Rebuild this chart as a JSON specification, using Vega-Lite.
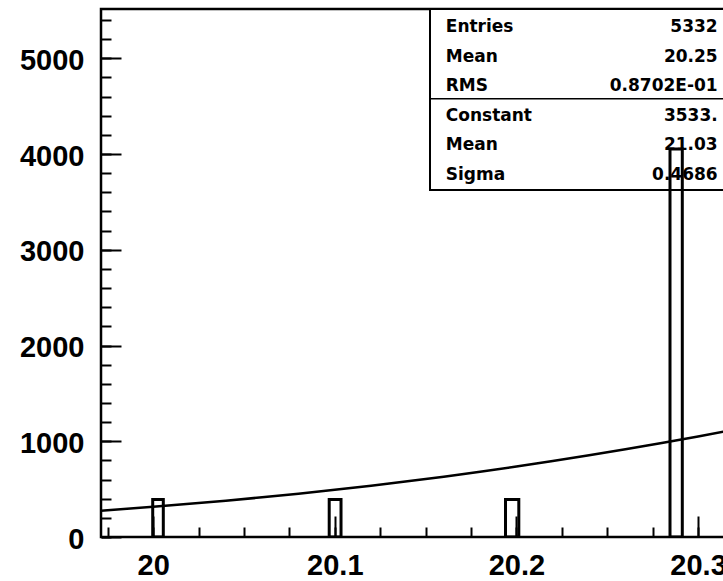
{
  "$schema": "https://vega.github.io/schema/vega-lite/v6.json",
  "width": 625,
  "height": 528,
  "autosize": {"type": "none"},
  "padding": {"left": 101, "top": 9, "right": -3, "bottom": 44},
  "background": "white",
  "config": {
    "view": {"stroke": "black", "strokeWidth": 2.5},
    "axis": {
      "domain": false,
      "grid": false,
      "tickColor": "black",
      "tickWidth": 2,
      "labelFont": "Liberation Sans",
      "labelFontWeight": "bold",
      "labelFontSize": 29,
      "labelColor": "black",
      "labelOverlap": false,
      "labelFlush": false,
      "labelBound": false,
      "title": null
    }
  },
  "datasets": {
    "bins": [
      {"lo": 19.99976, "hi": 20.00559, "count": 392},
      {"lo": 20.09693, "hi": 20.10343, "count": 392},
      {"lo": 20.19399, "hi": 20.20131, "count": 392},
      {"lo": 20.28455, "hi": 20.29132, "count": 4053}
    ],
    "fit": [
      {"x": 19.97, "y": 273.5},
      {"x": 20.00, "y": 315.5},
      {"x": 20.02, "y": 346.2},
      {"x": 20.04, "y": 379.2},
      {"x": 20.06, "y": 414.7},
      {"x": 20.08, "y": 452.5},
      {"x": 20.10, "y": 493.0},
      {"x": 20.12, "y": 536.1},
      {"x": 20.14, "y": 581.9},
      {"x": 20.16, "y": 630.4},
      {"x": 20.18, "y": 681.8},
      {"x": 20.20, "y": 736.0},
      {"x": 20.22, "y": 793.1},
      {"x": 20.24, "y": 853.1},
      {"x": 20.26, "y": 915.9},
      {"x": 20.28, "y": 981.5},
      {"x": 20.30, "y": 1050.0},
      {"x": 20.32, "y": 1121.1}
    ],
    "stats": [
      {"i": 1, "name": "Entries", "value": "5332"},
      {"i": 2, "name": "Mean", "value": "20.25"},
      {"i": 3, "name": "RMS", "value": "0.8702E-01"},
      {"i": 4, "name": "Constant", "value": "3533."},
      {"i": 5, "name": "Mean", "value": "21.03"},
      {"i": 6, "name": "Sigma", "value": "0.4686"}
    ],
    "one": [{"box": "stats"}]
  },
  "layer": [
    {
      "layer": [
        {
          "data": {"name": "one"},
          "mark": {"type": "rect", "fill": "white", "stroke": "black", "strokeWidth": 2, "clip": true},
          "encoding": {
            "x": {"datum": 20.15242, "type": "quantitative", "title": null, "axis": null,
                  "scale": {"domain": [19.97129, 20.31538], "nice": false, "zero": false}},
            "x2": {"datum": 20.34},
            "y": {"datum": 0.376, "type": "quantitative", "title": null, "axis": null,
                  "scale": {"domain": [0.376, 18.274], "reverse": true, "nice": false, "zero": false}},
            "y2": {"datum": 6.512}
          }
        },
        {
          "data": {"name": "one"},
          "mark": {"type": "rule", "color": "black", "strokeWidth": 1.5, "clip": true},
          "encoding": {
            "x": {"datum": 20.15242, "type": "quantitative", "title": null, "axis": null},
            "x2": {"datum": 20.34},
            "y": {"datum": 3.42, "type": "quantitative", "title": null, "axis": null}
          }
        },
        {
          "data": {"name": "stats"},
          "mark": {"type": "text", "align": "left", "baseline": "middle", "font": "DejaVu Sans", "fontWeight": "bold", "fontSize": 17, "color": "black"},
          "encoding": {
            "x": {"datum": 20.1611, "type": "quantitative", "title": null, "axis": null},
            "y": {"field": "i", "type": "quantitative", "title": null, "axis": null},
            "text": {"field": "name"}
          }
        },
        {
          "data": {"name": "stats"},
          "mark": {"type": "text", "align": "right", "baseline": "middle", "font": "DejaVu Sans", "fontWeight": "bold", "fontSize": 17, "color": "black"},
          "encoding": {
            "x": {"datum": 20.3108, "type": "quantitative", "title": null, "axis": null},
            "y": {"field": "i", "type": "quantitative", "title": null, "axis": null},
            "text": {"field": "value"}
          }
        }
      ]
    },
    {
      "data": {"name": "bins"},
      "mark": {"type": "point", "opacity": 0},
      "encoding": {
        "x": {
          "field": "lo", "type": "quantitative", "title": null,
          "scale": {"domain": [19.97129, 20.31538], "nice": false, "zero": false},
          "axis": {"orient": "bottom", "values": [20, 20.1, 20.2, 20.3], "tickCount": 100, "tickSize": -21, "labels": false}
        },
        "y": {
          "field": "count", "type": "quantitative", "title": null,
          "scale": {"domain": [0, 5515], "nice": false},
          "axis": {"orient": "left", "values": [0, 1000, 2000, 3000, 4000, 5000], "tickCount": 100, "tickSize": -20, "labels": false}
        }
      }
    },
    {
      "layer": [
        {
          "data": {"name": "bins"},
          "mark": {"type": "rect", "fill": "white", "fillOpacity": 0, "stroke": "black", "strokeWidth": 3, "clip": true},
          "encoding": {
            "x": {
              "field": "lo", "type": "quantitative", "title": null,
              "scale": {"domain": [19.97129, 20.31538], "nice": false, "zero": false},
              "axis": {
                "orient": "bottom",
                "values": [19.975, 20, 20.025, 20.05, 20.075, 20.1, 20.125, 20.15, 20.175, 20.2, 20.225, 20.25, 20.275, 20.3],
                "tickCount": 100,
                "tickSize": -10,
                "labelOverlap": false,
                "labelExpr": "abs(datum.value*10 - round(datum.value*10)) < 0.001 ? format(datum.value, '.3~g') : ''",
                "labelPadding": 24
              }
            },
            "x2": {"field": "hi"},
            "y": {
              "field": "count", "type": "quantitative", "title": null,
              "scale": {"domain": [0, 5515], "nice": false},
              "axis": {
                "orient": "left",
                "values": [0, 200, 400, 600, 800, 1000, 1200, 1400, 1600, 1800, 2000, 2200, 2400, 2600, 2800, 3000, 3200, 3400, 3600, 3800, 4000, 4200, 4400, 4600, 4800, 5000, 5200, 5400],
                "tickCount": 100,
                "tickSize": -10,
                "labelOverlap": false,
                "labelExpr": "datum.value % 1000 === 0 ? format(datum.value, 'd') : ''",
                "labelPadding": 27,
                "labelOffset": 2
              }
            },
            "y2": {"datum": 0}
          }
        },
        {
          "data": {"name": "fit"},
          "mark": {"type": "line", "color": "black", "strokeWidth": 2.5, "clip": true},
          "encoding": {
            "x": {"field": "x", "type": "quantitative", "title": null},
            "y": {"field": "y", "type": "quantitative", "title": null}
          }
        }
      ]
    }
  ],
  "resolve": {"scale": {"x": "independent", "y": "independent"}}
}
